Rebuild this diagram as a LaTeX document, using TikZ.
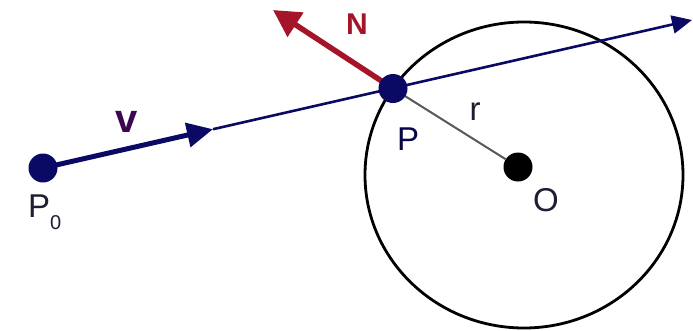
\documentclass[tikz,border=0pt]{standalone}
\usepackage{fontspec}
\setmainfont{Liberation Sans}
\usetikzlibrary{arrows.meta}
\definecolor{navy}{RGB}{10,10,100}
\definecolor{dred}{RGB}{165,20,40}
\definecolor{lbl}{RGB}{30,30,50}
\tikzset{
  dot/.style={circle,fill=navy,inner sep=0pt,minimum size=29pt},
  blackdot/.style={circle,fill=black,inner sep=0pt,minimum size=29pt},
  lab/.style={font=\fontsize{33}{33}\selectfont,text=lbl,inner sep=0pt},
  vline/.style={draw=navy,line width=5pt,-{Triangle[length=26pt,width=24pt]}},
  thinline/.style={draw=navy,line width=2.6pt,-{Triangle[length=20pt,width=18pt]}},
  narrow/.style={draw=dred,line width=5.5pt,-{Triangle[length=27pt,width=28pt]}},
  rline/.style={draw=black!65,line width=2pt},
  ring/.style={draw=black,line width=2.8pt}
}
\begin{document}
\begin{tikzpicture}[x=1pt,y=-1pt]
\useasboundingbox (0,0) rectangle (693,330);
\fill[white] (0,0) rectangle (693,330);
\draw[ring] (524,175) ellipse [x radius=159pt, y radius=153pt];
\coordinate (V) at (213,129.2);
\coordinate (E) at (692,20);
\coordinate (Ntip) at (273,10);
\node[blackdot] (O) at (518,167) {};
\coordinate (Pc) at (393,88.5);
\draw[rline] (Pc) -- (O);
\draw[thinline] (V) -- (E);
\node[dot] (P0) at (43,168) {};
\draw[vline] (P0.center) -- (V);
\draw[narrow] (Pc) -- (Ntip);
\node[dot] (P) at (Pc) {};
\node[lab,text=dred,font=\bfseries\fontsize{30}{30}\selectfont] (Nl) at (357,24) {N};
\node[lab,text=navy!80!red,font=\bfseries\fontsize{40}{40}\selectfont] (vl) at (127,122) {v};
\node[lab,text=navy!70!black] (Pl) at (408,139) {P};
\node[lab] (rl) at (475,112) {r};
\node[lab] (Ol) at (546,200) {O};
\node[lab,anchor=west] (P0l) at (28,212) {P\raisebox{-0.35em}{\fontsize{20}{20}\selectfont 0}};
\end{tikzpicture}
\end{document}
